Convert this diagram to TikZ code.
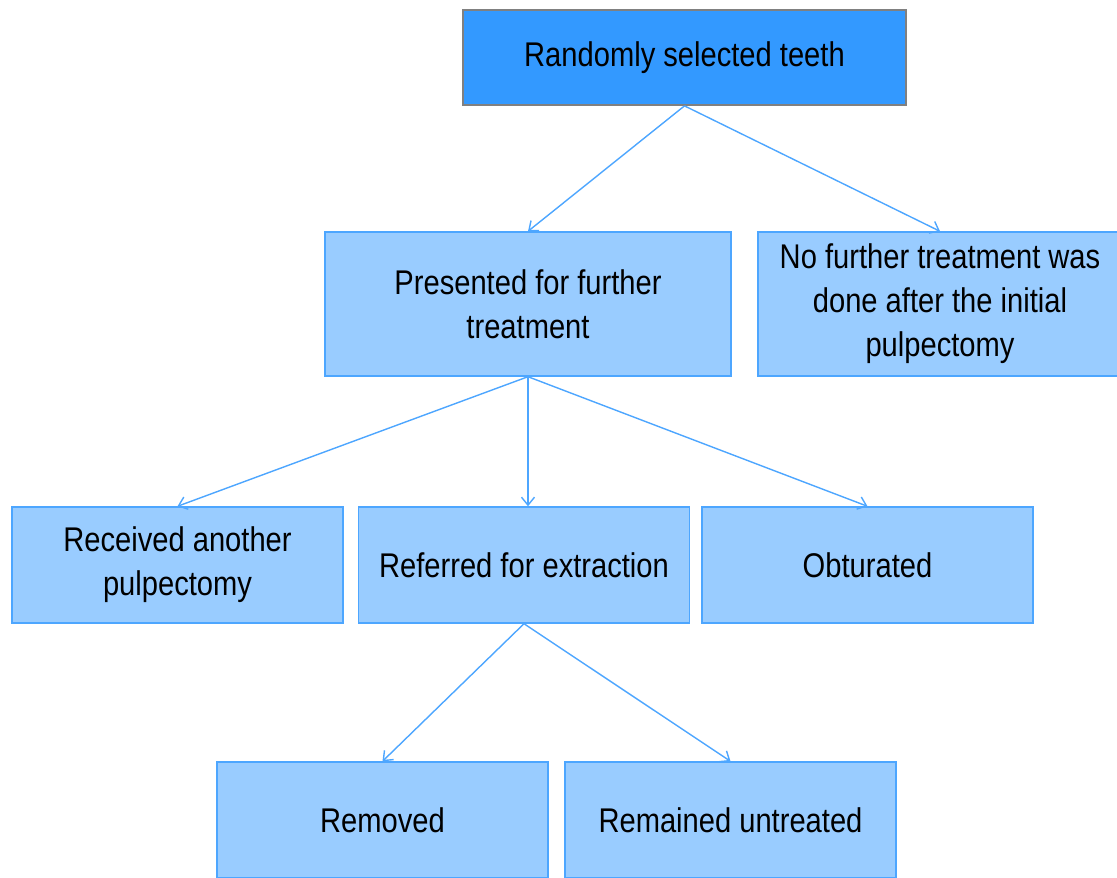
\documentclass[tikz,border=0pt]{standalone}
\usepackage{fontspec}
\setmainfont{Liberation Sans}[FakeStretch=0.85]
\usepackage{tikz}
\usetikzlibrary{arrows.meta}
\definecolor{tblue}{HTML}{3399FF}
\definecolor{tlight}{HTML}{99CCFF}
\definecolor{tedge}{HTML}{4DA6FF}
\definecolor{tgray}{HTML}{808080}

\begin{document}
\begin{tikzpicture}[font=\fontsize{19.5}{25}\selectfont,
  headbox/.style={rectangle,draw=tgray,fill=tblue,line width=1pt,align=center,inner sep=0pt,minimum width=8.86cm,minimum height=1.9cm},
  midbox/.style={rectangle,draw=tedge,fill=tlight,line width=0.8pt,align=center,inner sep=0pt,minimum height=2.88cm},
  lowbox/.style={rectangle,draw=tedge,fill=tlight,line width=0.8pt,align=center,inner sep=0pt,minimum width=6.62cm,minimum height=2.32cm},
  link/.style={-{Straight Barb[length=1.6mm,width=2.6mm]},line width=0.8pt,tedge}]
  \clip (0,0) rectangle (22.34,-17.56);
  \useasboundingbox (0,0) rectangle (22.34,-17.56);
  \node[headbox] (teeth) at (13.69,-1.15) {Randomly selected teeth};
  \node[midbox,minimum width=8.12cm] (pres) at (10.56,-6.08) {Presented for further\\treatment};
  \node[midbox,minimum width=7.28cm] (nofur) at (18.8,-6.08) {No further treatment was\\done after the initial\\pulpectomy};
  \node[lowbox] (recv) at (3.55,-11.3) {Received another\\pulpectomy};
  \node[lowbox] (refr) at (10.48,-11.3) {Referred for extraction};
  \node[lowbox] (obt) at (17.35,-11.3) {Obturated};
  \node[lowbox] (remv) at (7.65,-16.4) {Removed};
  \node[lowbox] (remn) at (14.61,-16.4) {Remained untreated};
  \draw[link] (teeth.south) -- (pres.north); \draw[link] (teeth.south) -- (nofur.north);
  \draw[link] (pres.south) -- (recv.north); \draw[link] (pres.south) -- (pres.south |- refr.north);
  \draw[link] (pres.south) -- (obt.north);
  \draw[link] (refr.south) -- (remv.north); \draw[link] (refr.south) -- (remn.north);
\end{tikzpicture}
\end{document}
